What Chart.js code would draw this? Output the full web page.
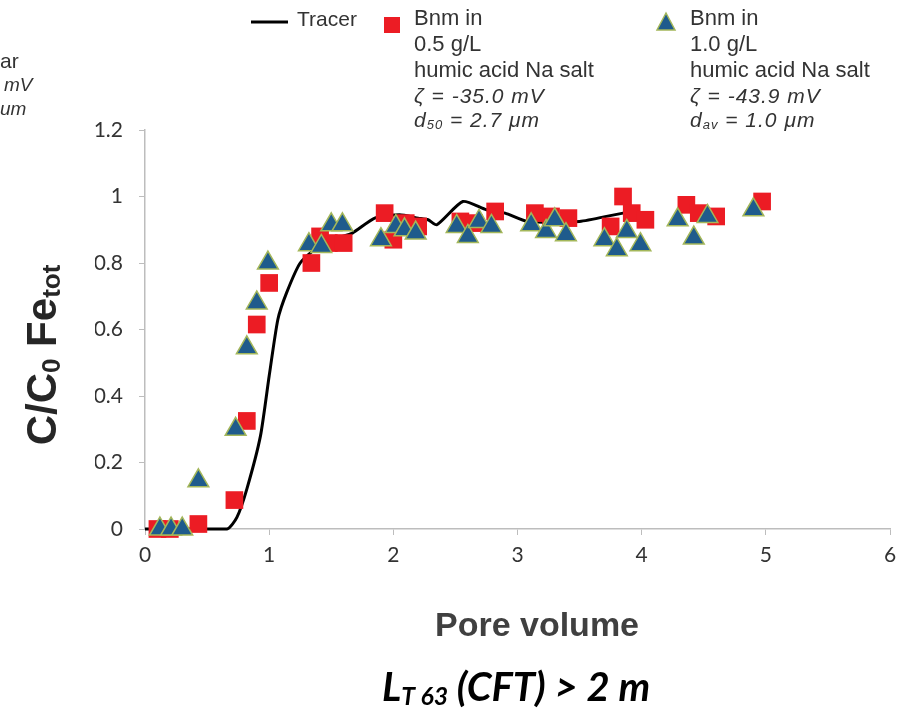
<!DOCTYPE html>
<html>
<head>
<meta charset="utf-8">
<script src="https://cdn.jsdelivr.net/npm/chart.js@4.4.1/dist/chart.umd.min.js"></script>
<style>
  html, body { margin: 0; padding: 0; background: #fff; }
  #wrap { width: 910px; height: 715px; position: relative; }
</style>
</head>
<body>
<div id="wrap"><canvas id="grafico"></canvas></div>
<script>
// ===== Dados =====
const xTicks = [0, 1, 2, 3, 4, 5, 6];
const yTicks = [0, 0.2, 0.4, 0.6, 0.8, 1, 1.2];

const tracerX = [0, 0.66, 0.74, 0.82, 0.93, 1.0, 1.07, 1.14, 1.25, 1.4, 1.55, 1.67, 1.85, 2.05, 2.2, 2.28, 2.35, 2.56, 2.75, 2.9, 3.08, 3.5, 3.85, 3.97];
const tracerY = [0, 0, 0.035, 0.12, 0.28, 0.46, 0.63, 0.71, 0.8, 0.85, 0.875, 0.89, 0.935, 0.945, 0.935, 0.93, 0.915, 0.985, 0.96, 0.95, 0.925, 0.925, 0.95, 0.95];

const bnm05X = [0.1, 0.2, 0.43, 0.72, 0.82, 0.9, 1.0, 1.34, 1.41, 1.48, 1.6, 1.93, 2.0, 2.1, 2.2, 2.54, 2.65, 2.82, 3.14, 3.27, 3.41, 3.75, 3.85, 3.92, 4.03, 4.36, 4.46, 4.6, 4.97];
const bnm05Y = [0, 0, 0.015, 0.087, 0.325, 0.615, 0.74, 0.8, 0.88, 0.86, 0.86, 0.95, 0.87, 0.92, 0.91, 0.925, 0.92, 0.955, 0.95, 0.94, 0.935, 0.91, 1.0, 0.95, 0.93, 0.975, 0.95, 0.94, 0.985];

const bnm10X = [0.12, 0.21, 0.3, 0.43, 0.73, 0.82, 0.9, 0.99, 1.32, 1.42, 1.5, 1.59, 1.9, 2.02, 2.09, 2.18, 2.51, 2.6, 2.69, 2.79, 3.11, 3.23, 3.3, 3.39, 3.7, 3.8, 3.88, 3.99, 4.29, 4.42, 4.53, 4.9];
const bnm10Y = [0, 0, 0, 0.145, 0.3, 0.545, 0.68, 0.8, 0.855, 0.85, 0.915, 0.915, 0.87, 0.91, 0.9, 0.89, 0.91, 0.88, 0.925, 0.91, 0.915, 0.895, 0.93, 0.885, 0.87, 0.84, 0.895, 0.855, 0.93, 0.875, 0.94, 0.96];

const pts = (xs, ys) => xs.map((x, i) => ({ x: x, y: ys[i] }));

const RED = '#ec1c24';
const BLUE = '#1f5b8c';
const OLIVE = '#a4b75a';
const TXT = '#333333';
const SANS = '"Liberation Sans"';

// ===== Texto com subscrito =====
function drawRich(ctx, parts, x, y, size, style, family, align) {
  // parts: [texto, é subscrito?]
  let w = 0;
  parts.forEach(p => {
    ctx.font = style + ' ' + (p[1] ? size * 0.62 : size) + 'px ' + family;
    w += ctx.measureText(p[0]).width;
  });
  let cx = align === 'center' ? x - w / 2 : x;
  parts.forEach(p => {
    const s = p[1] ? size * 0.62 : size;
    ctx.font = style + ' ' + s + 'px ' + family;
    ctx.fillText(p[0], cx, p[1] ? y + size * 0.22 : y);
    cx += ctx.measureText(p[0]).width;
  });
}

// ===== Legenda e títulos =====
const extras = {
  id: 'extras',
  afterDraw(chart) {
    const ctx = chart.ctx;
    ctx.save();
    ctx.fillStyle = TXT;
    ctx.textBaseline = 'middle';
    ctx.textAlign = 'left';

    // fragmentos do painel vizinho
    ctx.font = '21px ' + SANS;
    ctx.fillText('ar', 0, 62);
    ctx.font = 'italic 19px ' + SANS;
    ctx.fillText('mV', 4, 86);
    ctx.fillText('um', 0, 110);

    // legenda: Tracer
    ctx.strokeStyle = '#000';
    ctx.lineWidth = 3;
    ctx.beginPath();
    ctx.moveTo(251, 22);
    ctx.lineTo(288, 22);
    ctx.stroke();
    ctx.font = '21px ' + SANS;
    ctx.fillText('Tracer', 297, 20);

    // legenda: quadrado vermelho
    ctx.fillStyle = RED;
    ctx.fillRect(384, 17, 16, 16);
    // legenda: triângulo azul
    ctx.fillStyle = BLUE;
    ctx.strokeStyle = OLIVE;
    ctx.lineWidth = 1.5;
    ctx.beginPath();
    ctx.moveTo(666, 13);
    ctx.lineTo(675, 30);
    ctx.lineTo(657, 30);
    ctx.closePath();
    ctx.fill();
    ctx.stroke();

    const cols = [
      { x: 414, c: '0.5 g/L', z: '\u03B6 = -35.0 mV', d: ['50', '= 2.7 \u03BCm'] },
      { x: 690, c: '1.0 g/L', z: '\u03B6 = -43.9 mV', d: ['av', '= 1.0 \u03BCm'] }
    ];
    ctx.fillStyle = TXT;
    cols.forEach(col => {
      ctx.font = '22px ' + SANS;
      ctx.fillText('Bnm in', col.x, 19);
      ctx.fillText(col.c, col.x, 45);
      ctx.fillText('humic acid Na salt', col.x, 71);
      ctx.letterSpacing = '1px';
      ctx.font = 'italic 21px ' + SANS;
      ctx.fillText(col.z, col.x, 97);
      drawRich(ctx, [['d', false], [col.d[0], true], [' ' + col.d[1], false]], col.x, 121, 21, 'italic', SANS, 'left');
      ctx.letterSpacing = '0px';
    });

    // título eixo y
    ctx.save();
    ctx.translate(44, 355);
    ctx.rotate(-Math.PI / 2);
    ctx.fillStyle = '#262626';
    drawRich(ctx, [['C/C', false], ['0', true], [' Fe', false], ['tot', true]], 0, 0, 42, 'bold', SANS, 'center');
    ctx.restore();

    // título eixo x
    ctx.fillStyle = '#404040';
    ctx.textAlign = 'center';
    ctx.font = 'bold 34px ' + SANS;
    ctx.fillText('Pore volume', 537, 627);

    // rodapé
    ctx.textAlign = 'left';
    ctx.fillStyle = '#000';
    drawRich(ctx, [['L', false], ['T 63', true], [' (CFT) > 2 m', false]], 516, 688, 40, 'italic bold', 'Lato', 'center');
    ctx.restore();
  }
};

new Chart(document.getElementById('grafico').getContext('2d'), {
  type: 'scatter',
  data: {
    datasets: [
      {
        label: 'Bnm in 1.0 g/L',
        data: pts(bnm10X, bnm10Y),
        pointStyle: 'triangle',
        pointRadius: 12,
        backgroundColor: BLUE,
        borderColor: OLIVE,
        borderWidth: 1.5,
        clip: false,
        order: 0
      },
      {
        label: 'Bnm in 0.5 g/L',
        data: pts(bnm05X, bnm05Y),
        pointStyle: 'rect',
        pointRadius: 12.5,
        backgroundColor: RED,
        borderColor: RED,
        borderWidth: 0,
        clip: false,
        order: 1
      },
      {
        label: 'Tracer',
        type: 'line',
        data: pts(tracerX, tracerY),
        borderColor: '#000',
        borderWidth: 3,
        pointRadius: 0,
        tension: 0.2,
        clip: false,
        order: 2
      }
    ]
  },
  options: {
    responsive: true,
    maintainAspectRatio: false,
    animation: false,
    layout: { padding: { left: 95, right: 20, top: 130, bottom: 146 } },
    plugins: { legend: { display: false }, tooltip: { enabled: false } },
    scales: {
      x: {
        type: 'linear',
        min: 0,
        max: 6,
        afterBuildTicks: s => { s.ticks = xTicks.map(v => ({ value: v })); },
        afterFit: s => { s.height = 40; },
        grid: { drawOnChartArea: false, drawTicks: true, tickLength: 6, color: '#bdbdbd' },
        border: { color: '#bdbdbd', width: 1.5 },
        ticks: { color: TXT, font: { family: 'Lato', size: 21 }, padding: 8 }
      },
      y: {
        min: 0,
        max: 1.2,
        afterBuildTicks: s => { s.ticks = yTicks.map(v => ({ value: v })); },
        afterFit: s => { s.width = 50; },
        grid: { drawOnChartArea: false, drawTicks: true, tickLength: 6, color: '#bdbdbd' },
        border: { color: '#bdbdbd', width: 1.5 },
        ticks: {
          color: TXT,
          font: { family: 'Lato', size: 21 },
          padding: 16,
          callback: v => String(Math.round(v * 10) / 10)
        }
      }
    }
  },
  plugins: [extras]
});
</script>
</body>
</html>
